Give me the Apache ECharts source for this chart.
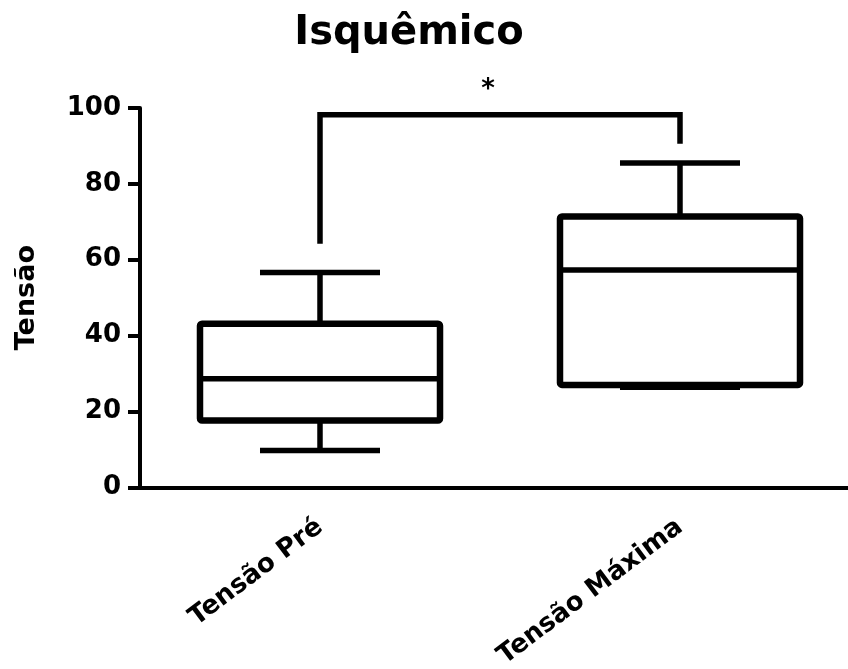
<!DOCTYPE html>
<html>
<head>
<meta charset="utf-8">
<script src="https://cdn.jsdelivr.net/npm/echarts@6/dist/echarts.min.js"></script>
<style>html,body{margin:0;padding:0;background:#fff;}#c{width:848px;height:669px;}</style>
</head>
<body>
<div id="c"></div>
<script>
// ---- data ----
var categories = ['Tensão Pré', 'Tensão Máxima'];
var whiskerMin = [9.7, 26.4];
var q1 = [17.6, 27.0];
var median = [28.6, 57.3];
var q3 = [43.1, 71.4];
var whiskerMax = [56.6, 85.5];
var yTicks = [0, 20, 40, 60, 80, 100];
// significance bracket: left foot, top, right foot
var bracketLeft = 64.2, bracketTop = 98.2, bracketRight = 90.6;
var starLabel = '*';
var starValue = 105;

var FONT = 'DejaVu Sans';
var boxData = categories.map(function (c, i) {
  return [i, whiskerMin[i], q1[i], median[i], q3[i], whiskerMax[i]];
});
var bracketData = [[0, bracketLeft], [0, bracketTop], [1, bracketTop], [1, bracketRight]];

var chart = echarts.init(document.getElementById('c'), null, {renderer: 'canvas'});
var option = {
  backgroundColor: '#ffffff',
  animation: false,
  title: {
    text: 'Isquêmico',
    left: 404, top: 9, textAlign: 'center',
    textStyle: {fontFamily: FONT, fontWeight: 'bold', fontSize: 40, color: '#000'}
  },
  grid: {left: 140, top: 108, width: 720, height: 379.3, containLabel: false, outerBoundsMode: 'none'},
  xAxis: {
    type: 'category',
    data: categories,
    boundaryGap: true,
    axisLine: {lineStyle: {color: '#000', width: 4}},
    axisTick: {alignWithLabel: true, length: 9, lineStyle: {color: '#000', width: 4}},
    axisLabel: {rotate: 37, margin: 37, color: '#000', fontFamily: FONT, fontWeight: 'bold', fontSize: 26, interval: 0},
    splitLine: {show: false}
  },
  yAxis: {
    type: 'value',
    min: yTicks[0], max: yTicks[yTicks.length - 1], interval: 20,
    name: 'Tensão',
    nameLocation: 'middle',
    nameGap: 100,
    nameTextStyle: {fontFamily: FONT, fontWeight: 'bold', fontSize: 27, color: '#000'},
    axisLine: {show: true, lineStyle: {color: '#000', width: 4}},
    axisTick: {show: true, length: 12, lineStyle: {color: '#000', width: 4}},
    axisLabel: {margin: 19, color: '#000', fontFamily: FONT, fontWeight: 'bold', fontSize: 26},
    splitLine: {show: false}
  },
  series: [
    {
      type: 'custom',
      data: boxData,
      encode: {x: 0, y: [1, 2, 3, 4, 5]},
      renderItem: function (params, api) {
        var i = api.value(0);
        var pMin = api.coord([i, api.value(1)]);
        var pQ1 = api.coord([i, api.value(2)]);
        var pMed = api.coord([i, api.value(3)]);
        var pQ3 = api.coord([i, api.value(4)]);
        var pMax = api.coord([i, api.value(5)]);
        var band = api.size([1, 0])[0];
        var bw = band * 0.6667, cw = bw / 2, cx = pMed[0];
        var st = {stroke: '#000', lineWidth: 5.5, fill: null};
        return {
          type: 'group',
          children: [
            {type: 'line', shape: {x1: cx, y1: pQ3[1], x2: cx, y2: pMax[1]}, style: st},
            {type: 'line', shape: {x1: cx - cw / 2, y1: pMax[1], x2: cx + cw / 2, y2: pMax[1]}, style: st},
            {type: 'line', shape: {x1: cx, y1: pQ1[1], x2: cx, y2: pMin[1]}, style: st},
            {type: 'line', shape: {x1: cx - cw / 2, y1: pMin[1], x2: cx + cw / 2, y2: pMin[1]}, style: st},
            {type: 'rect', shape: {x: cx - bw / 2, y: pQ3[1], width: bw, height: pQ1[1] - pQ3[1], r: 2},
              style: {fill: '#fff', stroke: '#000', lineWidth: 6.5}},
            {type: 'line', shape: {x1: cx - bw / 2, y1: pMed[1], x2: cx + bw / 2, y2: pMed[1]}, style: st}
          ]
        };
      }
    },
    {
      type: 'line',
      data: bracketData,
      symbol: 'none',
      silent: true,
      lineStyle: {color: '#000', width: 5.5, join: 'miter', cap: 'butt'}
    }
  ]
};
chart.setOption(option);
var a = chart.convertToPixel({seriesIndex: 1}, [0, starValue]);
var b = chart.convertToPixel({seriesIndex: 1}, [1, starValue]);
chart.setOption({
  graphic: [{
    type: 'text',
    x: (a[0] + b[0]) / 2 - 12, y: a[1] + 1,
    style: {text: starLabel, fontFamily: FONT, fontWeight: 'bold', fontSize: 26, fill: '#000', align: 'center', verticalAlign: 'middle'}
  }]
});
</script>
</body>
</html>
